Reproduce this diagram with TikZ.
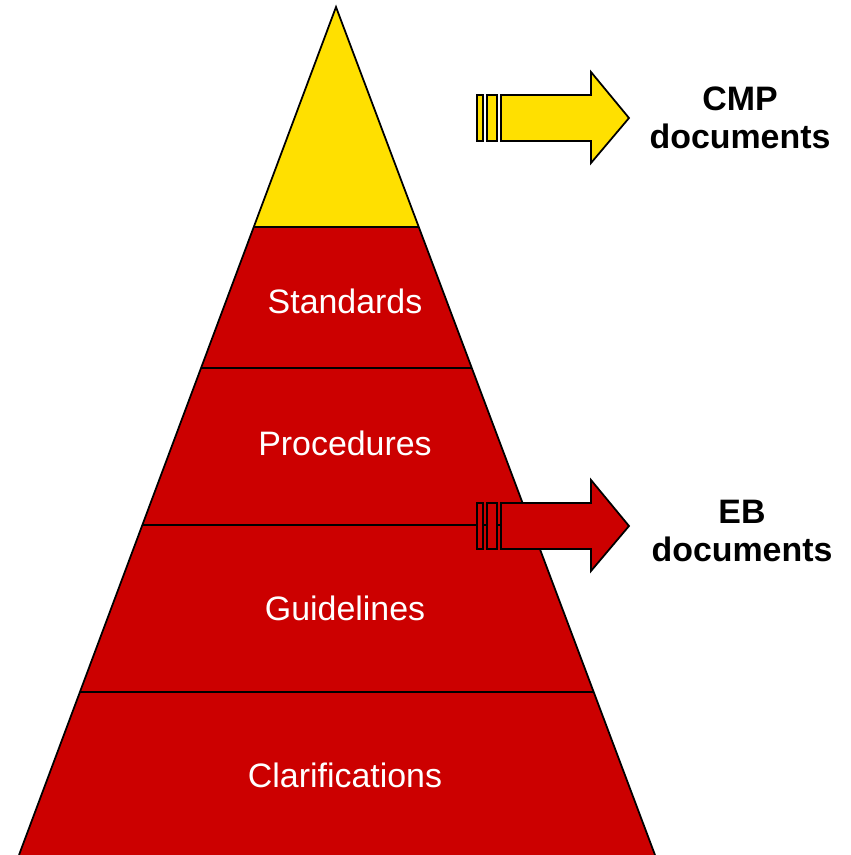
\documentclass[tikz,border=0pt]{standalone}
\usepackage{fontspec}
\setmainfont{Liberation Sans}
\usepackage{xcolor}
\usetikzlibrary{calc}
\definecolor{cmpyellow}{HTML}{FFE000}
\definecolor{ebred}{HTML}{CC0000}
\tikzset{
  level/.style={text=white, font=\fontsize{19.3}{23}\selectfont},
  doclabel/.style={align=center, font=\fontsize{19.3}{22}\selectfont\bfseries},
  edge/.style={draw=black, line width=1pt, line join=miter}
}
\begin{document}
\begin{tikzpicture}[x=0.02cm, y=-0.02cm]
    \useasboundingbox (0,0) rectangle (850,855);
    % Document hierarchy pyramid
    \coordinate (apex) at (336,7);
    \coordinate (bl) at (19,855);
    \coordinate (br) at (655,855);
    \fill[ebred] (apex) -- (bl) -- (br) -- cycle;
    \fill[cmpyellow] (apex) -- ($(apex)!0.2594!(bl)$) -- ($(apex)!0.2594!(br)$) -- cycle;
    \begin{scope}
      \clip (apex) -- (bl) -- (br) -- cycle;
      \foreach \yy in {227,368,525,692}
        \draw[line width=1pt] (0,\yy) -- (850,\yy);
    \end{scope}
    \draw[edge] (bl) -- (apex) -- (br);

    \node[level] (standards) at (345,301) {Standards};
    \node[level] (procedures) at (345,443) {Procedures};
    \node[level] (guidelines) at (345,608) {Guidelines};
    \node[level] (clarifications) at (345,775) {Clarifications};

    % block arrows
    \foreach \dy/\col in {0/cmpyellow, 408/ebred} {
      \draw[edge, fill=\col] (477,95+\dy) rectangle (483,141+\dy);
      \draw[edge, fill=\col] (487,95+\dy) rectangle (497,141+\dy);
      \draw[edge, fill=\col] (501,95+\dy) -- (591,95+\dy) -- (591,72+\dy) -- (629,118+\dy)
        -- (591,163+\dy) -- (591,141+\dy) -- (501,141+\dy) -- cycle;
    }

    \node[doclabel] (cmp) at (740,118) {CMP\\documents};
    \node[doclabel] (eb) at (742,531) {EB\\documents};
\end{tikzpicture}
\end{document}
